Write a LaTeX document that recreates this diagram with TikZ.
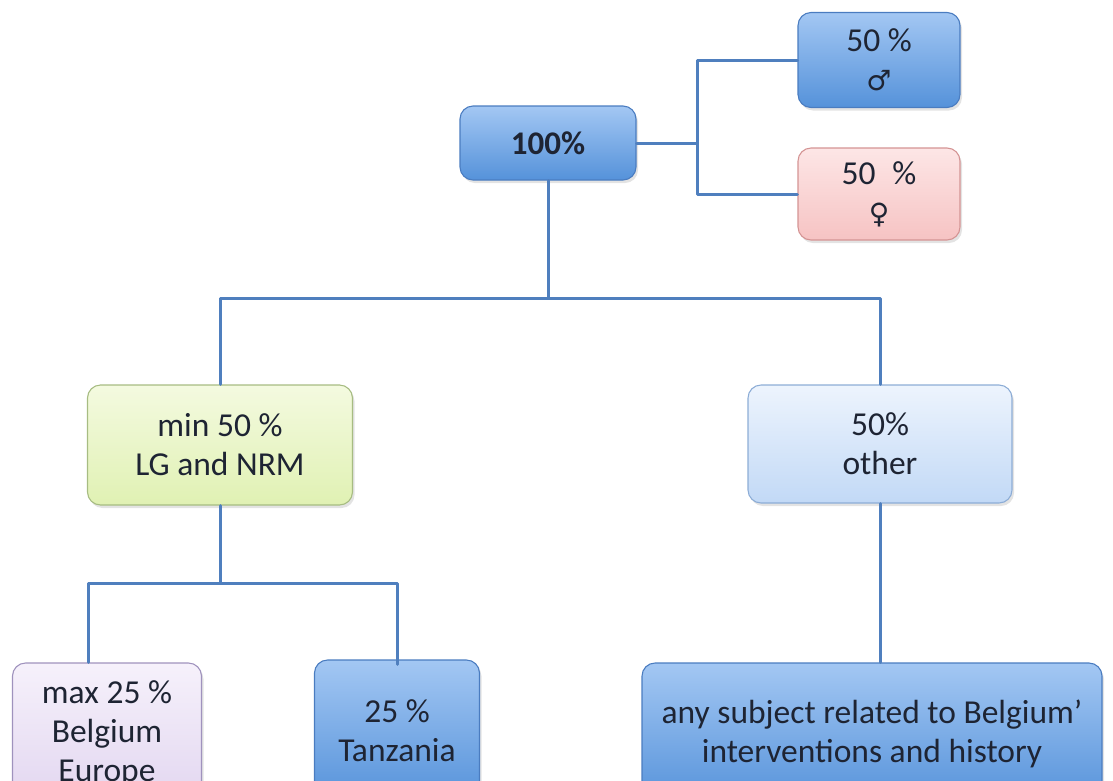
\documentclass[tikz,border=0pt]{standalone}
\usepackage{fontspec}
\setmainfont{Carlito}
\newfontfamily\symfont{DejaVu Sans}
\usepackage{xcolor}
\usetikzlibrary{positioning,shadows}

\definecolor{linkblue}{HTML}{4F7FBE}
\definecolor{textdark}{HTML}{1E2433}
\definecolor{blueline}{HTML}{4A7CC0}\definecolor{bluetop}{HTML}{A3C7F3}\definecolor{bluebot}{HTML}{5592DA}
\definecolor{pinkline}{HTML}{D49494}\definecolor{pinktop}{HTML}{FDE6E6}\definecolor{pinkbot}{HTML}{F6C3C3}
\definecolor{greenline}{HTML}{A7BC82}\definecolor{greentop}{HTML}{F4FAE0}\definecolor{greenbot}{HTML}{E0F1B3}
\definecolor{paleline}{HTML}{8DADD6}\definecolor{paletop}{HTML}{EDF4FD}\definecolor{palebot}{HTML}{C2D9F6}
\definecolor{lilacline}{HTML}{9F92BD}\definecolor{lilactop}{HTML}{F6F1FB}\definecolor{lilacbot}{HTML}{E2D6F0}

\begin{document}
\begin{tikzpicture}[x=1pt, y=-1pt, line cap=round, line join=round,
		link/.style={draw=linkblue, line width=3pt},
		box/.style={rounded corners=13pt, line width=1.1pt, align=center, inner sep=0pt,
			text=textdark, font=\fontsize{33.5}{39}\selectfont,
			drop shadow={opacity=0.22, shadow xshift=2pt, shadow yshift=-3pt}},
		bluebox/.style={box, draw=blueline, top color=bluetop, bottom color=bluebot},
		pinkbox/.style={box, draw=pinkline, top color=pinktop, bottom color=pinkbot},
		greenbox/.style={box, draw=greenline, top color=greentop, bottom color=greenbot},
		palebox/.style={box, draw=paleline, top color=paletop, bottom color=palebot},
		lilacbox/.style={box, draw=lilacline, top color=lilactop, bottom color=lilacbot}]
		\path[use as bounding box, clip] (0,0) rectangle (1113,780);
		
		% top level and gender split
		\node[bluebox, minimum width=176pt, minimum height=74pt, font=\fontsize{33}{40}\selectfont\bfseries] (total) at (548,143) {100\%};
		\node[bluebox, minimum width=162pt, minimum height=95pt] (male) at (879,60) {50 \%\\{\symfont\fontsize{28}{39}\selectfont ♂}};
		\node[pinkbox, minimum width=162pt, minimum height=92pt] (female) at (879,194) {50\enspace\%\\{\symfont\fontsize{28}{39}\selectfont ♀}};
		\coordinate (gsplit) at (697,143);
		\draw[link] (total.east) -- (gsplit);
		\draw[link] (male.west) -| (gsplit) |- (female.west);
		
		% second level
		\node[greenbox, minimum width=265pt, minimum height=120pt] (lgnrm) at (220,445) {min 50 \%\\LG and NRM};
		\node[palebox, minimum width=264pt, minimum height=118pt] (other) at (880,444) {50\%\\other};
		\coordinate (busone) at (548,298);
		\draw[link] (total.south) -- (busone);
		\draw[link] (lgnrm.north) |- (busone) -| (other.north);
		
		% bottom level
		\node[lilacbox, minimum width=189pt, minimum height=142pt] (europe) at (107,734) {max 25 \%\\Belgium\\Europe};
		\node[bluebox, minimum width=165pt, minimum height=142pt] (tanz) at (397,731) {25 \%\\Tanzania};
		\node[bluebox, minimum width=460pt, minimum height=142pt] (subject) at (872,734) {any subject related to Belgium’\\interventions and history};
		\coordinate (bustwo) at (220,583);
		\draw[link] (lgnrm.south) -- (bustwo);
		\draw[link] (bustwo) -| ([xshift=-19pt]europe.north);
		\draw[link] (bustwo) -| ([yshift=-5pt]tanz.north);
		\draw[link] (other.south) -- (other.south |- subject.north);
	\end{tikzpicture}
\end{document}
